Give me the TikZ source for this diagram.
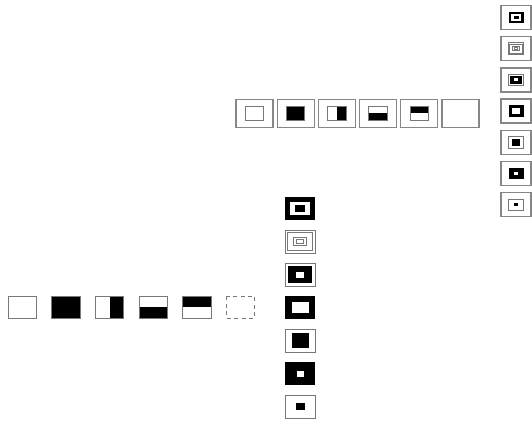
\documentclass[tikz,border=0pt]{standalone}
\usetikzlibrary{positioning}
\definecolor{lg}{RGB}{120,120,120}
\definecolor{fg}{RGB}{135,135,135}
\tikzset{
  rowline/.style={draw=lg,line width=1pt},
  grayline/.style={draw=lg,line width=0.9pt},
  framebox/.style={draw=fg,line width=1.3pt,inner sep=0pt,fill=none},
  frameT/.style={framebox,minimum width=37pt,minimum height=28pt},
  frameR/.style={framebox,minimum width=30pt,minimum height=24pt},
  % row patterns (28.5 x 22)
  rA/.pic={\draw[rowline] (-14.25,-11) rectangle (14.25,11);},
  rB/.pic={\fill[black] (-14.25,-11) rectangle (14.25,11);\draw[rowline] (-14.25,-11) rectangle (14.25,11);},
  rC/.pic={\fill[black] (0,-11) rectangle (14.25,11);\draw[rowline] (-14.25,-11) rectangle (14.25,11);},
  rD/.pic={\fill[black] (-14.25,0) rectangle (14.25,11);\draw[rowline] (-14.25,-11) rectangle (14.25,11);},
  rE/.pic={\fill[black] (-14.25,-11) rectangle (14.25,0);\draw[rowline] (-14.25,-11) rectangle (14.25,11);},
  rF/.pic={\draw[rowline,dash pattern=on 4pt off 3.5pt] (-14.25,-11) rectangle (14.25,11);},
  % column patterns (30 x 23)
  cA/.pic={\fill[black] (-15,-11.5) rectangle (15,11.5);\fill[white] (-10,-6.5) rectangle (10,6.5);\fill[black] (-5,-3.5) rectangle (5,3.5);},
  cB/.pic={\draw[grayline] (-15,-11.5) rectangle (15,11.5);\draw[grayline] (-12.5,-9) rectangle (12.5,9);\draw[grayline] (-6.5,-4.3) rectangle (6.5,4.3);\draw[grayline] (-3.7,-1.8) rectangle (3.7,1.8);},
  cC/.pic={\draw[grayline] (-15,-11.5) rectangle (15,11.5);\fill[black] (-12.3,-8.8) rectangle (12.3,8.8);\fill[white] (-4,-3) rectangle (4,3);},
  cD/.pic={\fill[black] (-15,-11.5) rectangle (15,11.5);\fill[white] (-8.5,-5.5) rectangle (8.5,5.5);},
  cE/.pic={\draw[grayline] (-15,-11.5) rectangle (15,11.5);\fill[black] (-8.5,-7.5) rectangle (8.5,7.5);},
  cF/.pic={\fill[black] (-15,-11.5) rectangle (15,11.5);\fill[white] (-3.5,-3) rectangle (3.5,3);},
  cG/.pic={\draw[grayline] (-15,-11.5) rectangle (15,11.5);\fill[black] (-4.5,-3.5) rectangle (4.5,3.5);}
}
\begin{document}
\begin{tikzpicture}[x=1pt,y=-1pt]
\useasboundingbox (0,0) rectangle (532,420);
% top row of framed features
\foreach \i/\p in {0/rA,1/rB,2/rC,3/rD,4/rE}{
  \node[frameT] (t\i) at (254.5+41.2*\i,113.3) {};
  \pic[scale=0.65] at (t\i) {\p};
}
\node[frameT] (t5) at (254.5+41.2*5,113.3) {};
% right column of framed features
\foreach \i/\p in {0/cA,1/cB,2/cC,3/cD,4/cE,5/cF,6/cG}{
  \node[frameR] (r\i) at (516,17.5+31.2*\i) {};
  \pic[scale=0.5] at (r\i) {\p};
}
% bottom row of features
\foreach \i/\p in {0/rA,1/rB,2/rC,3/rD,4/rE,5/rF}{
  \coordinate (b\i) at (22.5+43.6*\i,307.2);
  \pic at (b\i) {\p};
}
% middle column of features
\foreach \i/\p in {0/cA,1/cB,2/cC,3/cD,4/cE,5/cF,6/cG}{
  \coordinate (c\i) at (300,208.5+33*\i);
  \pic at (c\i) {\p};
}
\end{tikzpicture}
\end{document}
